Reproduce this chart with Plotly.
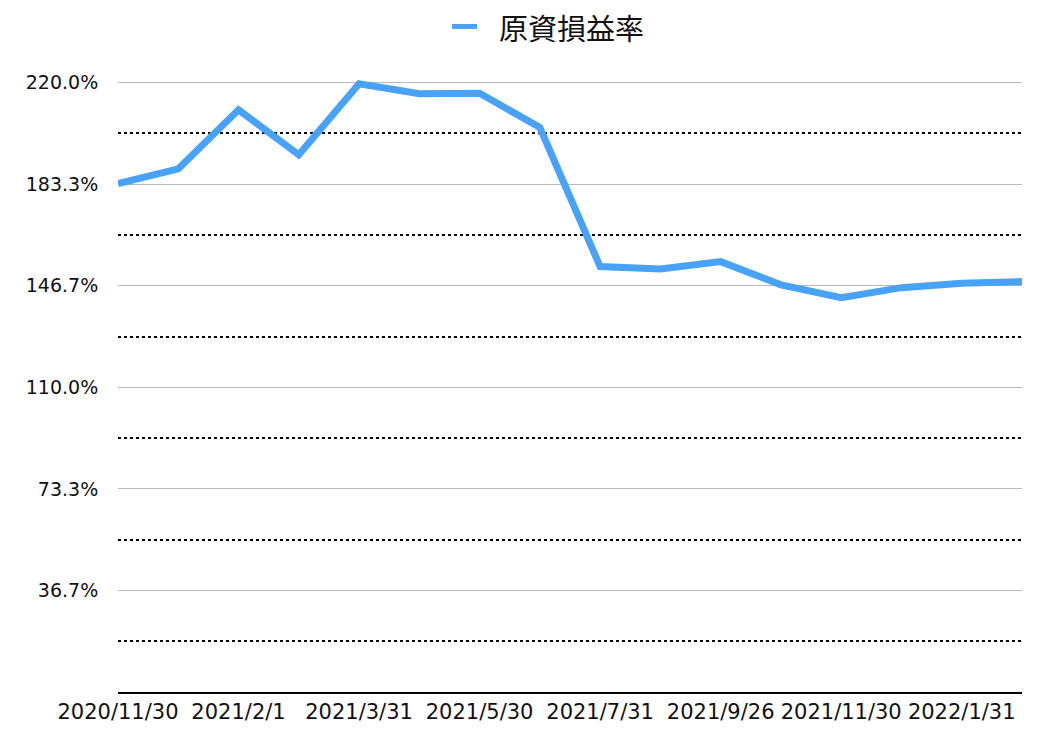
import plotly.graph_objects as go

dates = ["2020/11/30", "2020/12/31", "2021/2/1", "2021/2/28", "2021/3/31", "2021/4/30",
         "2021/5/30", "2021/6/30", "2021/7/31", "2021/8/31", "2021/9/26", "2021/10/31",
         "2021/11/30", "2021/12/31", "2022/1/31", "2022/2/28"]
rate = [183.6, 188.9, 210.2, 194.0, 219.6, 216.0, 216.2, 203.8,
        153.6, 152.7, 155.4, 147.0, 142.4, 146.0, 147.6, 148.2]
series_name = "原資損益率"

x_ticks = ["2020/11/30", "2021/2/1", "2021/3/31", "2021/5/30", "2021/7/31",
           "2021/9/26", "2021/11/30", "2022/1/31"]
y_major = [36.667, 73.333, 110.0, 146.667, 183.333, 220.0]
y_major_text = ["36.7%", "73.3%", "110.0%", "146.7%", "183.3%", "220.0%"]
y_minor = [18.333, 55.0, 91.667, 128.333, 165.0, 201.667]

LINE_COLOR = "#48a2f8"

# plot area lands at x 118..1022 and y 54.6..692.5 in the 1052x742 window
PLOT_L, PLOT_R, PLOT_T, PLOT_B = 118, 1022, 54.6, 692.5
W, H = 1052, 742
PW, PH = PLOT_R - PLOT_L, PLOT_B - PLOT_T


def px(x):
    return (x - PLOT_L) / PW


def py(y):
    return (PLOT_B - y) / PH


fig = go.Figure()
fig.add_trace(go.Scatter(
    x=dates, y=rate, mode="lines", name=series_name,
    line=dict(color=LINE_COLOR, width=7), showlegend=False,
))

# manual legend (line sample + label) above the plot
fig.add_shape(type="line", xref="paper", yref="paper",
              x0=px(452), x1=px(477), y0=py(26), y1=py(26),
              line=dict(color=LINE_COLOR, width=5))
fig.add_annotation(text=series_name, xref="paper", yref="paper",
                   x=px(497), xanchor="left", y=py(27), yanchor="middle",
                   showarrow=False,
                   font=dict(family="Noto Sans CJK JP", size=29, color="#111111"))

fig.update_layout(
    width=W, height=H,
    paper_bgcolor="white", plot_bgcolor="white",
    margin=dict(l=PLOT_L, r=W - PLOT_R, t=PLOT_T, b=H - PLOT_B, autoexpand=False),
    showlegend=False,
    font=dict(family="DejaVu Sans", color="#111111"),
)
fig.update_xaxes(
    type="category", range=[0, len(dates) - 1],
    tickmode="array", tickvals=x_ticks, ticktext=x_ticks, tickangle=0,
    showgrid=False, showline=True, linecolor="#000000", linewidth=2,
    ticks="", tickfont=dict(family="DejaVu Sans", size=21, color="#111111"),
    zeroline=False, automargin=False,
)
fig.update_yaxes(
    range=[0, 230], automargin=False,
    tickmode="array", tickvals=y_major, ticktext=y_major_text,
    showgrid=True, gridcolor="#b8b8b8", gridwidth=1,
    showline=False, zeroline=False,
    ticks="outside", ticklen=15, tickcolor="white",
    tickfont=dict(family="DejaVu Sans", size=19, color="#111111"),
    minor=dict(tickvals=y_minor, showgrid=True, gridcolor="#000000",
               griddash="dot", gridwidth=2, ticks=""),
)

fig.write_html("out.html", config={"displayModeBar": False},
               post_script="document.body.style.margin='0';document.body.style.overflow='hidden';")
